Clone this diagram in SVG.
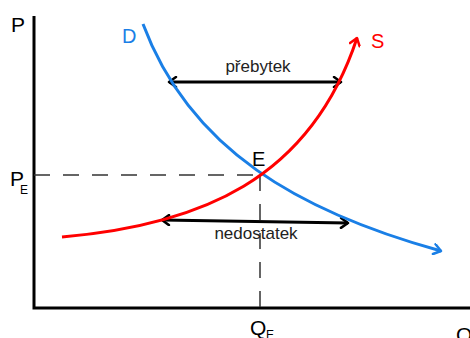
<svg xmlns="http://www.w3.org/2000/svg" width="470" height="338" viewBox="0 0 470 338">
<style>
text{font-family:"Liberation Sans",Arial,sans-serif}
.ax{stroke:#000;stroke-width:3;fill:none}
.dash{stroke:#333;stroke-width:1.5;stroke-dasharray:16 13;fill:none}
.d{stroke:#1a7fe6;stroke-width:3;fill:none}
.s{stroke:#f00;stroke-width:3;fill:none}
.ar{stroke:#000;stroke-width:3;fill:none}
</style>
<defs>
<marker id="hk" viewBox="0 0 12 12" refX="10" refY="6" markerWidth="12" markerHeight="12" markerUnits="userSpaceOnUse" orient="auto-start-reverse"><polyline points="3,1 10,6 3,11" fill="none" stroke="#000" stroke-width="2.5" stroke-linecap="round" stroke-linejoin="round"/></marker>
<marker id="hb" viewBox="0 0 12 12" refX="10" refY="6" markerWidth="12" markerHeight="12" markerUnits="userSpaceOnUse" orient="auto"><polyline points="3,1 10,6 3,11" fill="none" stroke="#1a7fe6" stroke-width="2.5" stroke-linecap="round" stroke-linejoin="round"/></marker>
<marker id="hr" viewBox="0 0 12 12" refX="10" refY="6" markerWidth="12" markerHeight="12" markerUnits="userSpaceOnUse" orient="auto"><polyline points="3,1 10,6 3,11" fill="none" stroke="#f00" stroke-width="2.5" stroke-linecap="round" stroke-linejoin="round"/></marker>
</defs>
<g id="axes">
<path class="ax" d="M34,16 V308 H470"/>
<text x="11" y="32" font-size="21">P</text>
<text x="456" y="342" font-size="21">Q</text>
</g>
<g id="connectors">
<path class="dash" d="M34,175 H260"/>
<path class="dash" d="M260,175 V307"/>
<path class="ar" d="M169,82 H341" marker-start="url(#hk)" marker-end="url(#hk)"/>
<path class="ar" d="M162,220 L348,223" marker-start="url(#hk)" marker-end="url(#hk)"/>
</g>
<g id="demand">
<path class="d" d="M143,24 C190,150 300,212 441,251" marker-end="url(#hb)"/>
<text x="122" y="43" font-size="20" fill="#1a7fe6">D</text>
</g>
<g id="supply">
<path class="s" d="M62,237 C200,225 310,180 357,38" marker-end="url(#hr)"/>
<text x="371" y="48" font-size="20" fill="#f00">S</text>
</g>
<g id="equilibrium">
<text x="252" y="166" font-size="20">E</text>
</g>
<g id="pe"><text x="10" y="186" font-size="21">P</text><text x="20" y="194" font-size="12">E</text></g>
<g id="qe"><text x="250" y="335" font-size="21">Q</text><text x="266" y="339" font-size="12">E</text></g>
<g id="labels">
<text x="258" y="72" font-size="17" text-anchor="middle" fill="#222">přebytek</text>
<text x="256" y="239" font-size="17" text-anchor="middle" fill="#222">nedostatek</text>
</g>
</svg>
